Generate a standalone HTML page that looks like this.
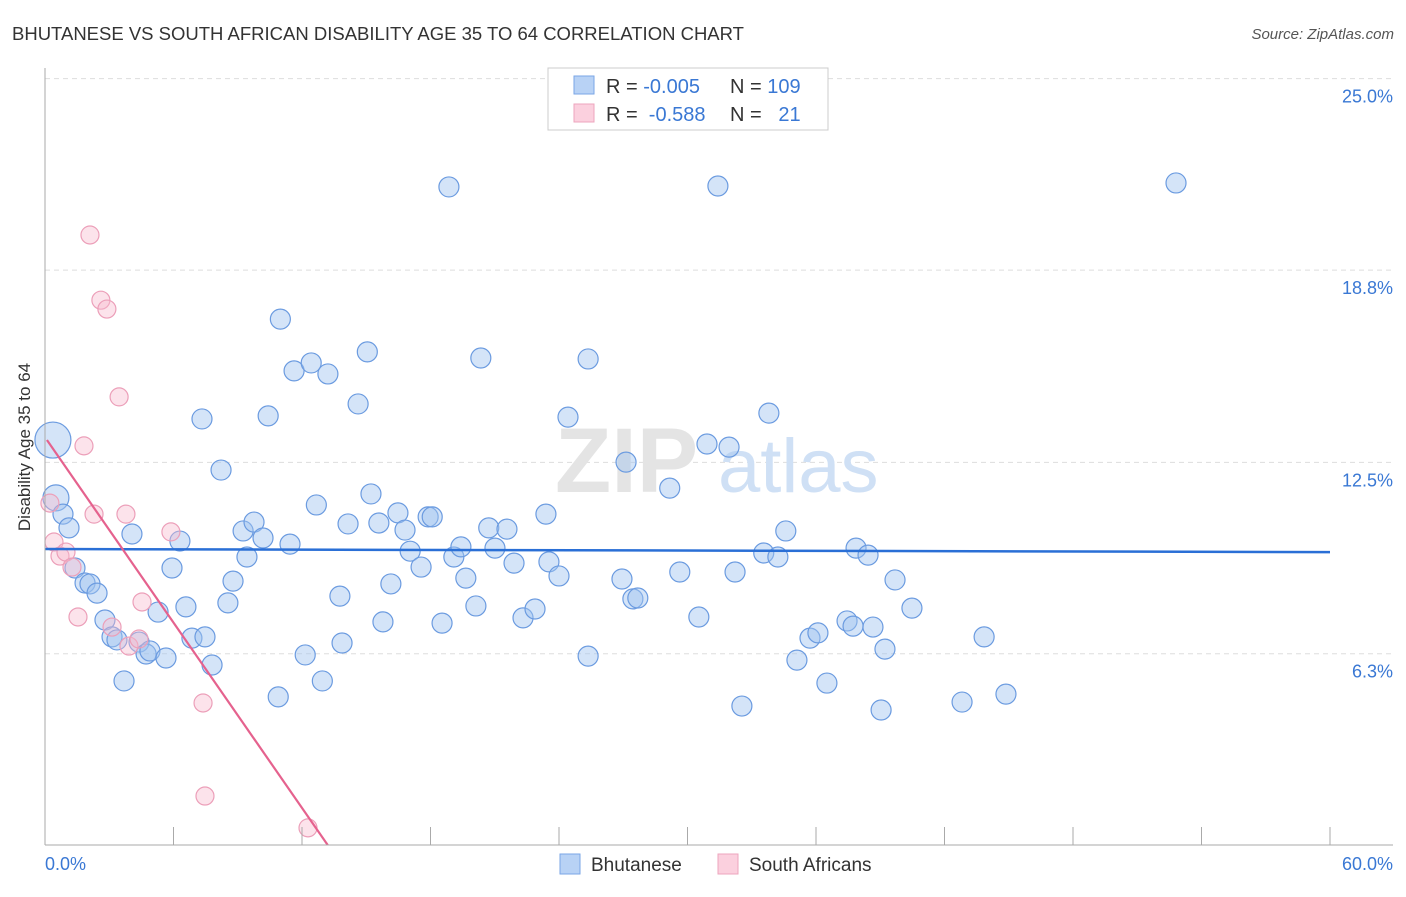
<!DOCTYPE html>
<html><head><meta charset="utf-8"><style>
body{margin:0;background:#fff;font-family:"Liberation Sans",sans-serif}
svg text{font-family:"Liberation Sans",sans-serif}
</style></head><body>
<svg id="chart" width="1406" height="892" xmlns="http://www.w3.org/2000/svg">
<text x="12" y="40" font-size="18.5" fill="#333">BHUTANESE VS SOUTH AFRICAN DISABILITY AGE 35 TO 64 CORRELATION CHART</text>
<text x="1394" y="39" font-size="15" fill="#555" text-anchor="end" font-style="italic">Source: ZipAtlas.com</text>
<text x="38" y="455" font-size="17" fill="#333" transform="rotate(-90 30 455)" text-anchor="middle">Disability Age 35 to 64</text>
<g id="grid"></g>
<g id="wm"><text x="555" y="492" font-size="92" fill="#e4e4e4" font-family="Liberation Serif" font-weight="bold">ZIP</text><text x="718" y="492" font-size="76" fill="#cfe0f5">atlas</text></g>
<g id="pts"></g>
<g id="trend"></g>
<g id="axes"></g>
<g>
<rect x="548" y="68" width="280" height="62" fill="#fff" stroke="#ccc"/>
<rect x="574" y="76" width="20" height="18" fill="#b8d2f5" stroke="#7aa6e6"/>
<rect x="574" y="104" width="20" height="18" fill="#fbd0de" stroke="#eea5bd"/>
<text x="606" y="93" font-size="20" fill="#333">R = <tspan fill="#3a78d4">-0.005</tspan></text>
<text x="730" y="93" font-size="20" fill="#333">N = <tspan fill="#3a78d4">109</tspan></text>
<text x="606" y="121" font-size="20" fill="#333">R = <tspan fill="#3a78d4">&#160;-0.588</tspan></text>
<text x="730" y="121" font-size="20" fill="#333">N = <tspan fill="#3a78d4">&#160;&#160;21</tspan></text>
</g>
<g>
<rect x="560" y="854" width="20" height="20" fill="#b8d2f5" stroke="#7aa6e6"/>
<text x="591" y="871" font-size="19" fill="#333">Bhutanese</text>
<rect x="718" y="854" width="20" height="20" fill="#fbd0de" stroke="#eea5bd"/>
<text x="749" y="871" font-size="19" fill="#333">South Africans</text>
</g>
</svg>
<script>
const yTicks=[25.0,18.8,12.5,6.3];
const yTickLabels=["25.0%","18.8%","12.5%","6.3%"];
const xTicks=[0,6,12,18,24,30,36,42,48,54,60];
const blueX=[0.37,0.51,0.84,1.12,1.40,1.87,2.10,2.43,2.80,3.13,3.36,4.39,4.72,4.90,5.65,3.69,4.06,5.28,5.93,6.30,6.58,6.86,7.47,7.80,7.33,8.22,8.54,8.78,9.25,9.43,9.76,10.18,10.42,10.89,10.99,11.44,11.63,12.15,12.43,12.67,12.95,13.21,13.77,13.87,14.15,14.62,15.05,15.22,15.59,15.78,16.15,16.48,16.81,17.05,17.56,17.89,18.08,18.54,18.86,19.09,19.42,19.65,20.12,20.35,20.72,21.01,21.57,21.90,22.32,22.88,23.39,23.53,24.00,24.42,25.36,25.36,26.94,27.13,27.45,27.68,29.17,29.64,30.53,30.91,31.42,31.94,32.22,32.54,33.56,33.80,34.22,34.59,35.11,35.72,36.09,36.51,37.45,37.73,37.87,38.43,38.66,39.04,39.22,39.69,40.48,42.82,43.85,44.87,52.81];
const blueY=[13.23,11.34,10.81,10.36,9.05,8.56,8.53,8.23,7.35,6.80,6.70,6.63,6.24,6.34,6.11,5.36,10.16,7.61,9.05,9.93,7.78,6.76,6.80,5.88,13.92,12.25,7.91,8.62,10.26,9.41,10.55,10.03,14.02,4.84,17.18,9.83,15.49,6.21,15.75,11.11,5.36,15.39,8.13,6.60,10.49,14.41,16.11,11.47,10.52,7.29,8.53,10.85,10.29,9.60,9.08,10.72,10.72,7.25,21.50,9.41,9.74,8.72,7.81,15.91,10.36,9.70,10.32,9.21,7.42,7.71,10.81,9.25,8.79,13.98,6.17,15.88,8.69,12.51,8.04,8.07,11.66,8.92,7.45,13.10,21.53,13.00,8.92,4.54,9.54,14.11,9.41,10.26,6.04,6.76,6.93,5.29,7.32,7.15,9.70,9.47,7.12,4.41,6.40,8.66,7.74,4.67,6.80,4.93,21.63];
const pinkX=[0.23,0.42,0.70,0.98,1.26,1.54,1.82,2.10,2.29,2.61,2.89,3.13,3.46,3.78,3.92,4.39,4.53,5.88,7.38,7.47,12.28];
const pinkY=[11.17,9.90,9.44,9.57,9.08,7.45,13.04,19.93,10.81,17.80,17.51,7.12,14.64,10.81,6.50,6.73,7.94,10.23,4.64,1.60,0.56];
const blueTrend=[[0,9.67],[60,9.57]];
const pinkTrend=[[0.09,13.23],[13.2,0]];
const NS="http://www.w3.org/2000/svg";
const X0=45,X1=1330,Y0=845,PXPER=191.3/6.25;
const sx=v=>X0+(v/60)*(X1-X0);
const sy=v=>Y0-v*PXPER;
const gy=t=>t===25?25.04:t===18.8?18.78:t===6.3?6.25:t;
function mk(tag,attrs,parent){const e=document.createElementNS(NS,tag);for(const k in attrs)e.setAttribute(k,attrs[k]);parent.appendChild(e);return e;}
const grid=document.getElementById('grid'),axes=document.getElementById('axes'),pts=document.getElementById('pts'),tr=document.getElementById('trend');
yTicks.forEach((t,i)=>{
 const l=mk('line',{x1:X0,x2:1393,y1:sy(gy(t)),y2:sy(gy(t)),stroke:'#ddd','stroke-dasharray':'5,4'},grid);
 
 
 const tx=mk('text',{x:1393,y:sy(gy(t))+24,'font-size':18,fill:'#3a78d4','text-anchor':'end'},axes);
 tx.textContent=yTickLabels[i];
 
 
});
mk('line',{x1:X0,x2:X0,y1:68,y2:Y0,stroke:'#aaa'},axes);
mk('line',{x1:X0,x2:1393,y1:Y0,y2:Y0,stroke:'#aaa'},axes);
xTicks.forEach(t=>{
 const l=mk('line',{x1:sx(t),x2:sx(t),y1:Y0,y2:Y0-18,stroke:'#aaa'},axes);
 
 
});
const xl=mk('text',{x:45,y:870,'font-size':18,fill:'#3a78d4'},axes);xl.textContent='0.0%';


const xr=mk('text',{x:1393,y:870,'font-size':18,fill:'#3a78d4','text-anchor':'end'},axes);xr.textContent='60.0%';


blueX.forEach((x,i)=>{
 const r=i===0?18:i===1?13:10;
 const c=mk('circle',{cx:sx(x),cy:sy(blueY[i]),r:r,fill:'rgba(160,195,240,0.45)',stroke:'#6b9be0','stroke-width':1.2},pts);
 
 
});
pinkX.forEach((x,i)=>{
 const c=mk('circle',{cx:sx(x),cy:sy(pinkY[i]),r:9,fill:'rgba(248,185,205,0.4)',stroke:'#ec9fb9','stroke-width':1.2},pts);
 
 
});
const bt=mk('line',{x1:sx(blueTrend[0][0]),y1:sy(blueTrend[0][1]),x2:sx(blueTrend[1][0]),y2:sy(blueTrend[1][1]),stroke:'#2a6fd6','stroke-width':2.5},tr);


const pt=mk('line',{x1:sx(pinkTrend[0][0]),y1:sy(pinkTrend[0][1]),x2:sx(pinkTrend[1][0]),y2:sy(pinkTrend[1][1]),stroke:'#e5628e','stroke-width':2.2},tr);


</script>
</body></html>
